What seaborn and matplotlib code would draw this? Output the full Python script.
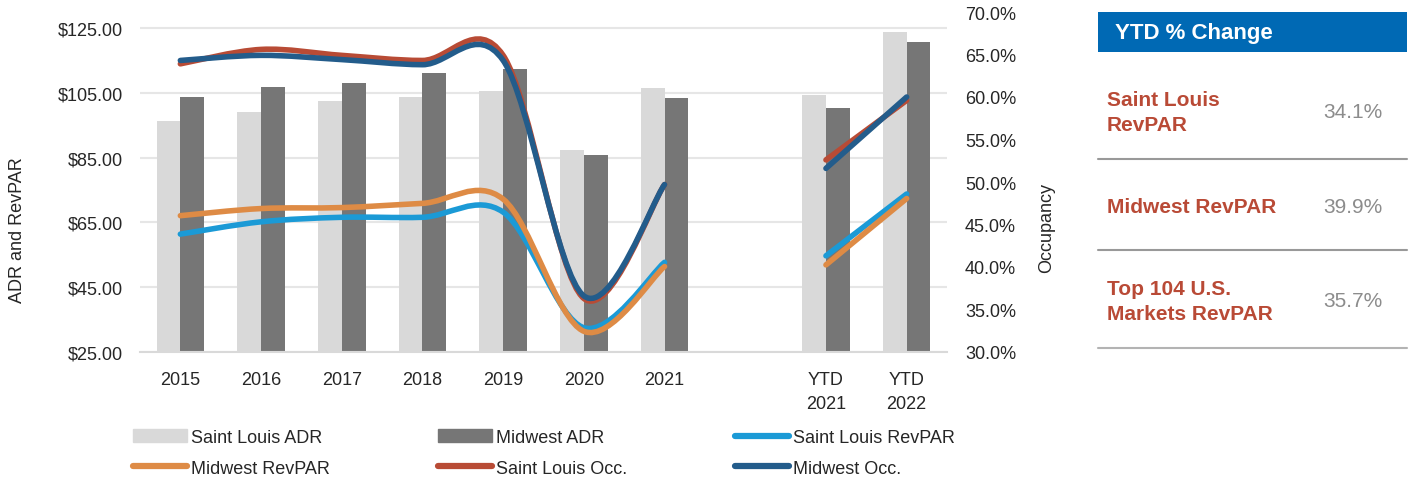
import matplotlib
matplotlib.use("Agg")
import matplotlib.pyplot as plt
import seaborn as sns
import pandas as pd
import numpy as np
from matplotlib.path import Path
from matplotlib.patches import PathPatch, Patch, Rectangle
from matplotlib.lines import Line2D
from matplotlib.ticker import FuncFormatter, FixedLocator

# data
categories = ['2015', '2016', '2017', '2018', '2019', '2020', '2021', 'YTD\n2021', 'YTD\n2022']
stl_adr = [96.3, 99.0, 102.5, 103.8, 105.5, 87.3, 106.4, 104.3, 123.7]
mw_adr = [103.9, 106.7, 108.2, 111.1, 112.3, 85.9, 103.5, 100.3, 120.8]
stl_revpar = [61.4, 65.2, 66.6, 66.6, 68.2, 32.5, 52.7, 54.7, 73.8]
mw_revpar = [67.1, 69.3, 69.6, 70.9, 72.2, 31.4, 51.4, 51.9, 72.4]
stl_occ = [63.9, 65.6, 64.9, 64.3, 64.9, 36.3, 49.7, 52.6, 59.6]
mw_occ = [64.3, 64.9, 64.4, 63.8, 64.3, 36.6, 49.7, 51.6, 60.0]

table_labels = ['Saint Louis\nRevPAR', 'Midwest RevPAR', 'Top 104 U.S.\nMarkets RevPAR']
table_values = ['34.1%', '39.9%', '35.7%']

# the chart leaves an empty slot between 2021 and the YTD bars
order = categories[:7] + [' '] + categories[7:]
segments = [categories[:7], categories[7:]]

sns.set_style("white")
plt.rcParams['font.family'] = ['Liberation Sans', 'DejaVu Sans']
TXT = '#262626'

fig = plt.figure(figsize=(14.11, 4.81), dpi=100)
ax = fig.add_axes([140 / 1411, 1 - 353 / 481, 807 / 1411, 340 / 481])

df = pd.DataFrame({
    'cat': categories * 2,
    'val': stl_adr + mw_adr,
    'series': ['Saint Louis ADR'] * 9 + ['Midwest ADR'] * 9,
})
bar_colors = {'Saint Louis ADR': '#D9D9D9', 'Midwest ADR': '#767676'}
sns.barplot(data=df, x='cat', y='val', hue='series', order=order,
            hue_order=['Saint Louis ADR', 'Midwest ADR'], palette=bar_colors,
            width=0.59, gap=0, saturation=1, errorbar=None, linewidth=0,
            legend=False, ax=ax)

ax.set_ylim(25, 130)
ax.yaxis.set_major_locator(FixedLocator([25, 45, 65, 85, 105, 125]))
ax.yaxis.set_major_formatter(FuncFormatter(lambda v, p: f'${v:.2f}'))
ax.grid(axis='y', color='#E6E6E6', lw=1.5)
ax.set_axisbelow(True)
ax.set_xlabel('')
ax.set_ylabel('')
ax.set_xlim(-0.5, len(order) - 0.5)

ax2 = ax.twinx()
ax2.set_ylim(30, 70)
ax2.yaxis.set_major_locator(FixedLocator(np.arange(30, 71, 5)))
ax2.yaxis.set_major_formatter(FuncFormatter(lambda v, p: f'{v:.1f}%'))

for a in (ax, ax2):
    for s in ('left', 'right', 'top'):
        a.spines[s].set_visible(False)
    a.spines['bottom'].set_color('#D9D9D9')
    a.spines['bottom'].set_linewidth(1.5)
ax2.spines['bottom'].set_visible(False)

ax.tick_params(axis='y', length=0, pad=12, labelsize=13, labelcolor=TXT)
ax2.tick_params(axis='y', length=0, pad=13, labelsize=13, labelcolor=TXT)

# category labels at the centres, tick marks on the boundaries
ax.set_xticks(range(len(order)))
ax.set_xticklabels(order)
ax.set_xticks(np.arange(-0.5, len(order)), minor=True)
ax.tick_params(axis='x', which='major', length=0, pad=14, labelsize=13, labelcolor=TXT)
ax.tick_params(axis='x', which='minor', length=6, width=1.5, color='#D9D9D9')
for t in ax.get_xticklabels():
    t.set_linespacing(1.5)


def smooth(xs, ys):
    # smoothed line like the spreadsheet one: bezier through every point
    pts = np.column_stack([xs, ys]).astype(float)
    verts = [pts[0]]
    codes = [Path.MOVETO]
    n = len(pts)
    for i in range(n - 1):
        p0 = pts[max(i - 1, 0)]
        p1, p2 = pts[i], pts[i + 1]
        p3 = pts[min(i + 2, n - 1)]
        verts += [p1 + (p2 - p0) / 6, p2 - (p3 - p1) / 6, p2]
        codes += [Path.CURVE4] * 3
    return Path(verts, codes)


line_series = [
    (ax, stl_revpar, '#1B9AD6', 'Saint Louis RevPAR'),
    (ax, mw_revpar, '#DE8B45', 'Midwest RevPAR'),
    (ax2, stl_occ, '#B84B35', 'Saint Louis Occ.'),
    (ax2, mw_occ, '#235C8B', 'Midwest Occ.'),
]
for a, vals, col, name in line_series:
    lookup = dict(zip(categories, vals))
    for seg in segments:
        xs = [order.index(c) for c in seg]
        ys = [lookup[c] for c in seg]
        a.add_patch(PathPatch(smooth(xs, ys), fill=False, edgecolor=col, lw=4,
                              capstyle='round', joinstyle='round'))

fig.text(18 / 1411, 1 - 230 / 481, 'ADR and RevPAR', rotation=90, ha='center',
         va='center', fontsize=13, color=TXT)
fig.text(1047 / 1411, 1 - 228 / 481, 'Occupancy', rotation=90, ha='center',
         va='center', fontsize=13, color=TXT)

# legend, filled row by row
h = {
    'Saint Louis ADR': Patch(color='#D9D9D9'),
    'Midwest ADR': Patch(color='#767676'),
}
for _, _, col, name in line_series:
    h[name] = Line2D([], [], color=col, lw=4.5, solid_capstyle='round')
leg_order = ['Saint Louis ADR', 'Midwest RevPAR', 'Midwest ADR', 'Saint Louis Occ.',
             'Saint Louis RevPAR', 'Midwest Occ.']
fig.legend([h[k] for k in leg_order], leg_order, ncol=3, frameon=False,
           loc='upper left', bbox_to_anchor=(133 / 1411, 1 - 430 / 481),
           borderpad=0, borderaxespad=0, handlelength=3, handletextpad=0.2,
           columnspacing=6, labelspacing=0.75, fontsize=13, labelcolor=TXT)

# side table
tab = fig.add_axes([0, 0, 1, 1], zorder=-1)
tab.set_xlim(0, 1411)
tab.set_ylim(481, 0)
tab.axis('off')
tab.add_patch(Rectangle((1098, 13), 309, 40, color='#0069B4', lw=0))
tab.text(1115, 34, 'YTD % Change', color='white', fontsize=16, fontweight='bold',
         va='center', ha='left')
RED = '#B94A36'
row_y = [113, 208, 302]
for lab, val, y in zip(table_labels, table_values, row_y):
    tab.text(1107, y, lab, color=RED, fontsize=15, fontweight='bold', va='center',
             ha='left', linespacing=1.45)
    tab.text(1383, y, val, color='#8C8C8C', fontsize=15, va='center', ha='right')
for y, c in zip([160, 251, 349], ['#999999', '#999999', '#B3B3B3']):
    tab.plot([1098, 1407], [y, y], color=c, lw=1.5)

fig.savefig('out.png', dpi=100)
